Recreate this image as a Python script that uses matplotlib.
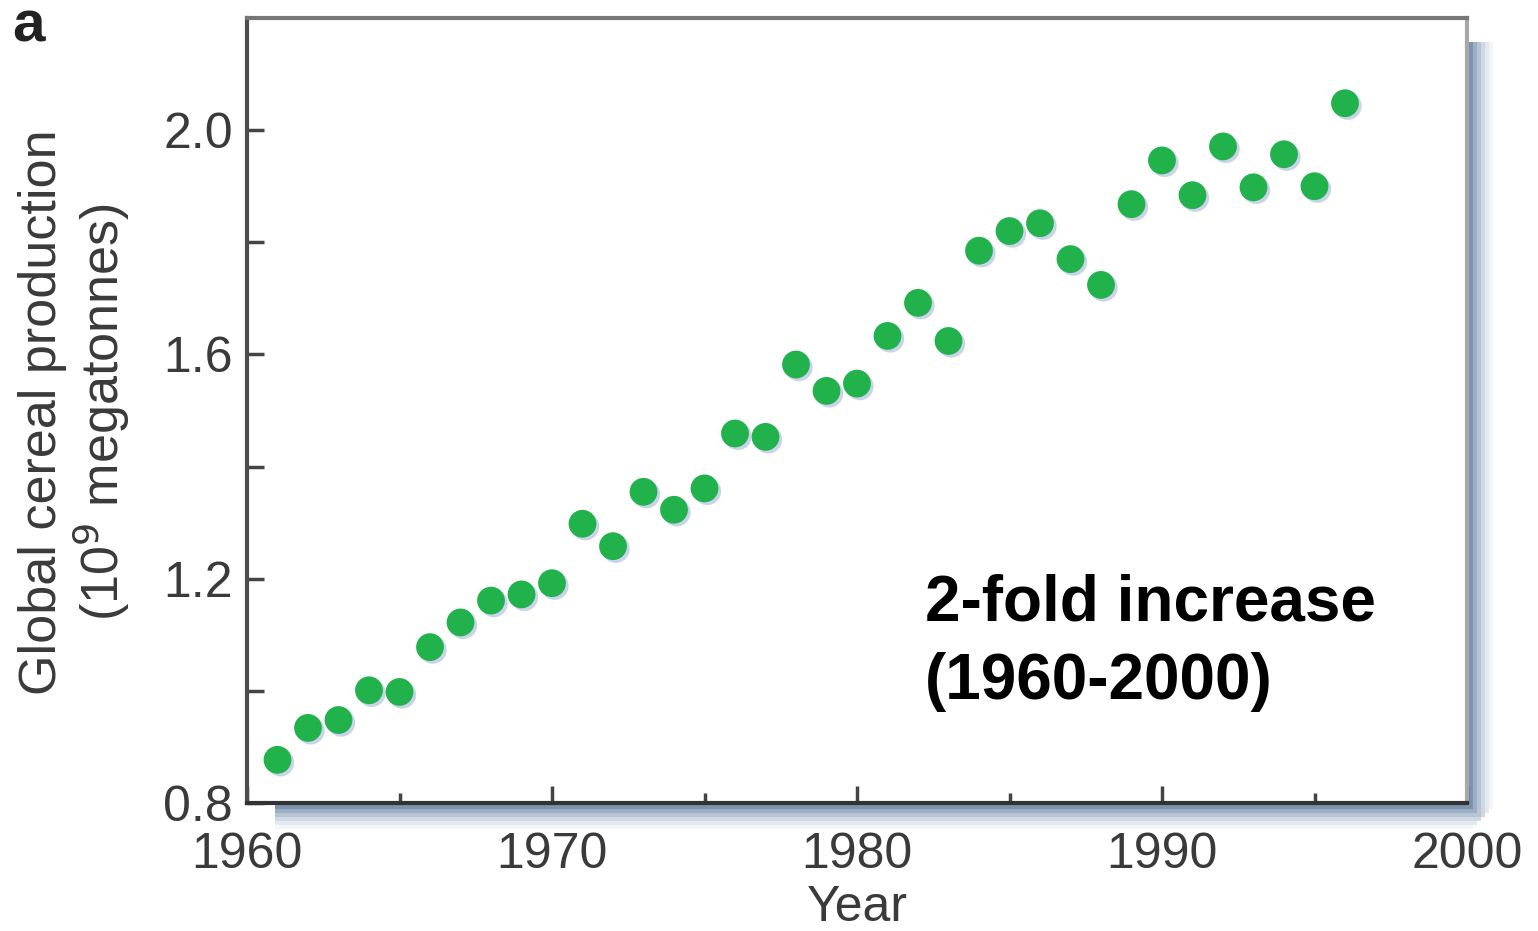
import matplotlib
matplotlib.use("Agg")
import matplotlib.pyplot as plt
import matplotlib.patheffects as pe
from matplotlib.patches import Rectangle

# global cereal production, 10^9 megatonnes
years = [1961, 1962, 1963, 1964, 1965, 1966, 1967, 1968, 1969, 1970,
         1971, 1972, 1973, 1974, 1975, 1976, 1977, 1978, 1979, 1980,
         1981, 1982, 1983, 1984, 1985, 1986, 1987, 1988, 1989, 1990,
         1991, 1992, 1993, 1994, 1995, 1996]
production = [0.877, 0.934, 0.948, 1.001, 0.998, 1.078, 1.122, 1.161, 1.172, 1.192,
              1.298, 1.258, 1.355, 1.323, 1.361, 1.459, 1.453, 1.582, 1.535, 1.548,
              1.633, 1.692, 1.624, 1.785, 1.820, 1.834, 1.770, 1.724, 1.868, 1.946,
              1.884, 1.971, 1.898, 1.957, 1.900, 2.048]

x_major = [1960, 1970, 1980, 1990, 2000]
x_minor = [1965, 1975, 1985, 1995]
y_ticks = [0.8, 1.0, 1.2, 1.4, 1.6, 1.8, 2.0]
y_labels = ["0.8", "", "1.2", "", "1.6", "", "2.0"]

plt.rcParams['font.family'] = ['Liberation Sans', 'DejaVu Sans']

W, H = 1538, 931
fig = plt.figure(figsize=(W / 100, H / 100), dpi=100)
left, right, bottom, top = 247, 1467, 803, 18
ax = fig.add_axes([left / W, 1 - bottom / H, (right - left) / W, (bottom - top) / H])

# drop shadow on right and bottom of the frame
shade = ['#7d93ad', '#9aaec4', '#b6c4d4', '#cfd8e3', '#e4e9ef', '#f3f5f8']
step = 4
n = len(shade)
for i, c in enumerate(shade):
    fig.add_artist(Rectangle(((right + 2 + i * step) / W, 1 - (bottom + 2 + (n - i) * step) / H),
                             step / W, (bottom - 40 + (n - i) * step) / H,
                             transform=fig.transFigure, color=c, lw=0, zorder=0))
    fig.add_artist(Rectangle((275 / W, 1 - (bottom + 2 + (i + 1) * step) / H),
                             (right + 2 + (n - i) * step - 275) / W, step / H,
                             transform=fig.transFigure, color=c, lw=0, zorder=0))

ax.plot(years, production, linestyle='none', marker='o', markersize=20,
        color='#21b24b', markeredgewidth=0, zorder=3,
        path_effects=[pe.SimplePatchShadow(offset=(2, -2), shadow_rgbFace='#c3d0e8', alpha=0.9),
                      pe.Normal()])

ax.set_xlim(1960, 2000)
ax.set_ylim(0.8, 2.2)
ax.set_xticks(x_major)
ax.set_xticks(x_minor, minor=True)
ax.set_yticks(y_ticks)
ax.set_yticklabels(y_labels)

ax.tick_params(axis='both', which='major', direction='in', length=12, width=2.5,
               color='#444444', labelsize=36, labelcolor='#3a3a3a')
ax.tick_params(axis='x', which='major', pad=21)
ax.tick_params(axis='y', which='major', pad=10)
ax.tick_params(axis='x', which='minor', direction='in', length=7, width=2.5, color='#444444')

ax.spines['left'].set_color('#4d4d4d')
ax.spines['bottom'].set_color('#333333')
ax.spines['top'].set_color('#777777')
ax.spines['right'].set_color('#a8a8a8')
for s in ax.spines.values():
    s.set_linewidth(3)

ax.set_xlabel("Year", fontsize=36, color='#3a3a3a', labelpad=5)
fig.text(75 / W, 1 - 412 / H, "Global cereal production\n(10$^9$ megatonnes)",
         rotation=90, ha='center', va='center', multialignment='center',
         fontsize=37.5, color='#3a3a3a', linespacing=1.05)

ax.text(0.556, 0.204, "2-fold increase\n(1960-2000)", transform=ax.transAxes,
        ha='left', va='center', fontsize=46, fontweight='bold', color='black',
        linespacing=1.38)

fig.text(12 / W, 1 - 27 / H, "a", ha='left', va='center', fontsize=42,
         fontweight='bold', color='#222222')

fig.savefig("out.png", dpi=100)
